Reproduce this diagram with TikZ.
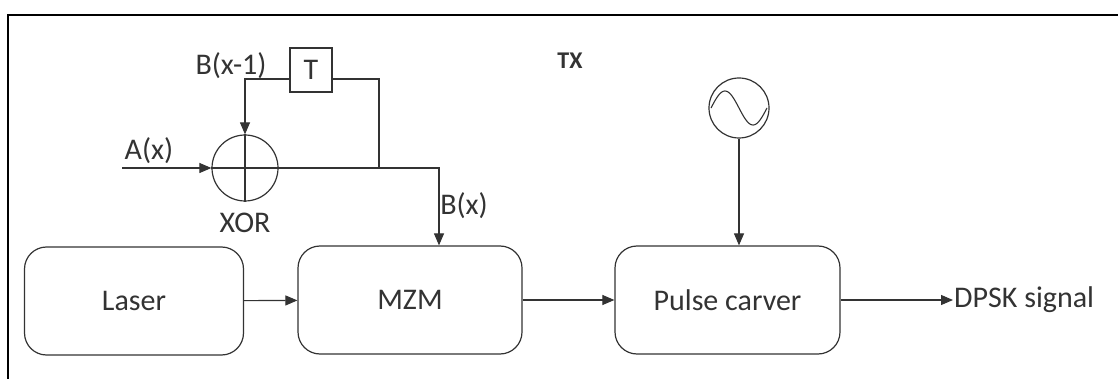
\documentclass[tikz,border=0pt]{standalone}
\usepackage{fontspec}
\setmainfont{Carlito}
\usetikzlibrary{arrows.meta,positioning}

\tikzset{
  blk/.style={draw, rounded corners=22pt, minimum height=108pt, line width=1.2pt},
  sig/.style={line width=1.1pt, -{Triangle[length=12pt,width=10pt]}},
  wire/.style={line width=1.1pt},
  lbl/.style={inner sep=1pt}
}

\begin{document}
\begin{tikzpicture}[x=1pt, y=-1pt, font=\fontsize{30}{34}\selectfont, color=black!80]
    \useasboundingbox (0,0) rectangle (1118,379);
    % frame
    \draw[line width=2pt, black] (8,379) -- (8,15) -- (1118,15);
    \node[font=\fontsize{24}{28}\selectfont\bfseries] (tx) at (570,61) {TX};

    % optical chain
    \node[blk, minimum width=219pt] (laser) at (134,301) {Laser};
    \node[blk, minimum width=224pt] (mzm) at (410,300) {MZM};
    \node[blk, minimum width=225pt] (carver) at (727.5,300) {Pulse carver};
    \node[lbl, anchor=west] (dpsk) at (953,300) {DPSK signal};

    \draw[sig] (laser) -- (mzm);
    \draw[sig] (mzm) -- (carver);
    \draw[sig] (carver) -- (dpsk.west);

    % precoder
    \node[circle, draw, line width=1.2pt, minimum size=66pt, inner sep=0pt] (xor) at (245,168) {};
    \draw[wire] (xor.north) -- (xor.south);
    \draw[wire] (xor.west) -- (xor.east);
    \node[lbl] (xorlbl) at (245,223) {XOR};

    \node[draw, line width=1.2pt, minimum width=42pt, minimum height=44pt, inner sep=0pt] (delay) at (311,70) {T};
    \node[lbl] (bprev) at (231,66) {B(x-1)};

    \coordinate (ain) at (122,168);
    \node[lbl] (alab) at (149,151) {A(x)};
    \draw[sig] (ain) -- (xor.west);

    \coordinate (tap) at (379,168);
    \draw[wire] (tap) |- ([yshift=-9pt]delay.east);
    \draw[sig] ([yshift=-9pt]delay.west) -| (xor.north);
    \draw[sig] (xor.east) -| ([xshift=29pt]mzm.north);
    \node[lbl] (blab) at (464,206) {B(x)};

    % clock
    \node[circle, draw, line width=1.2pt, minimum size=60pt, inner sep=0pt] (osc) at (739,108) {};
    \begin{scope}[shift={(osc.center)}]
      \draw[wire] plot[domain=-28:28, samples=50, smooth] (\x, {17*sin(\x*360/56)});
    \end{scope}
    \draw[sig] (osc.south) -- (osc.south |- carver.north);
\end{tikzpicture}
\end{document}
